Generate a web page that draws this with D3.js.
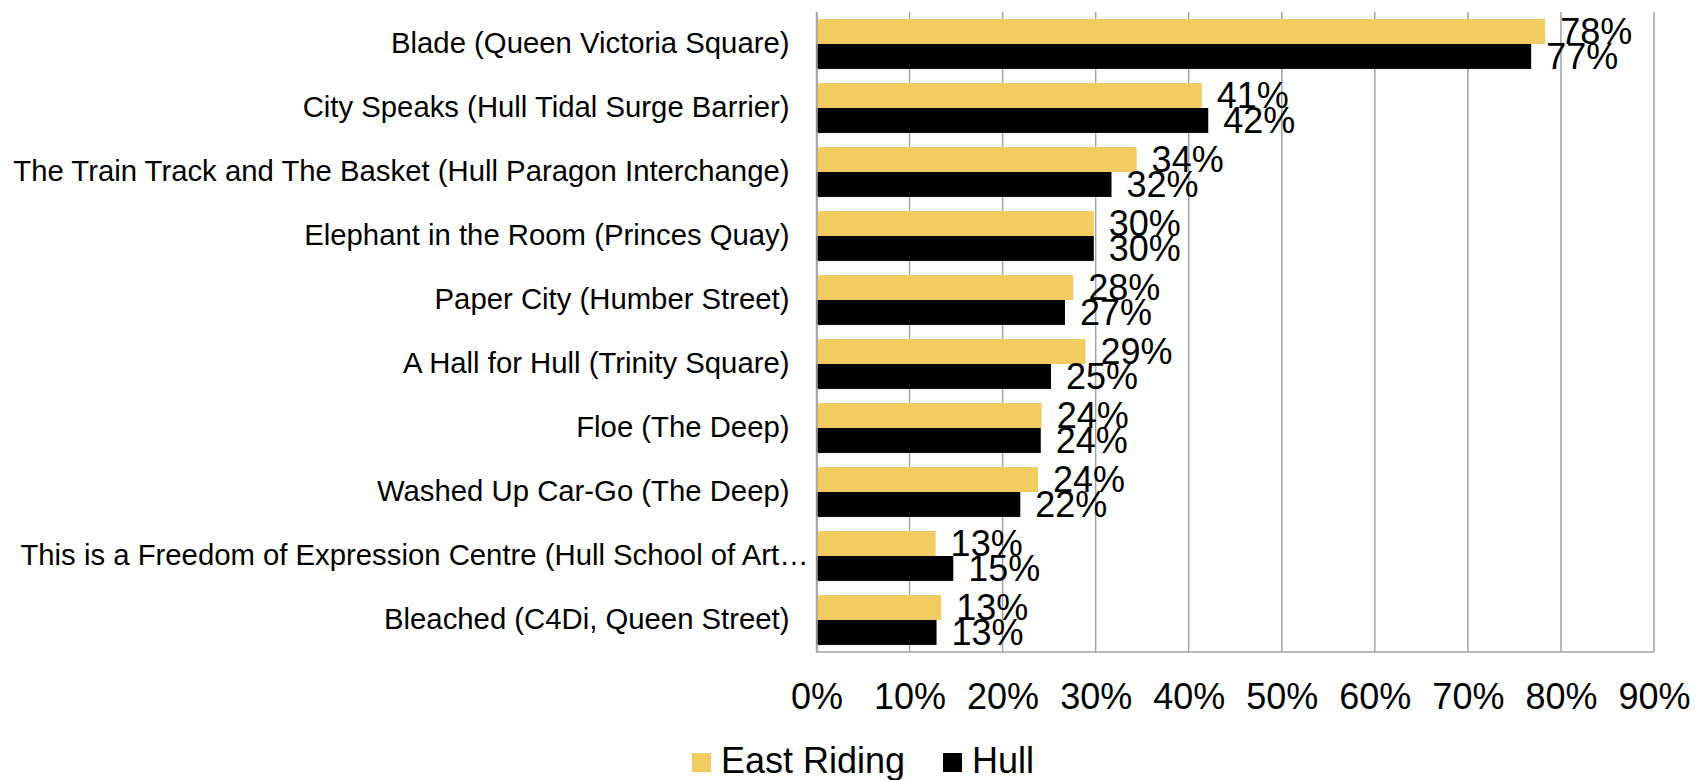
<!DOCTYPE html>
<html>
<head>
<meta charset="utf-8">
<script src="https://cdn.jsdelivr.net/npm/d3@7"></script>
<style>
  body { margin: 0; background: #fff; }
  svg { display: block; font-family: "Liberation Sans", Arial, sans-serif; }
</style>
</head>
<body>
<svg id="chart" width="1696" height="780"></svg>
<script>
// data (percent)
const categories = [
  "Blade (Queen Victoria Square)",
  "City Speaks (Hull Tidal Surge Barrier)",
  "The Train Track and The Basket (Hull Paragon Interchange)",
  "Elephant in the Room (Princes Quay)",
  "Paper City (Humber Street)",
  "A Hall for Hull (Trinity Square)",
  "Floe (The Deep)",
  "Washed Up Car-Go (The Deep)",
  "This is a Freedom of Expression Centre (Hull School of Art…",
  "Bleached (C4Di, Queen Street)"
];
const seriesNames = ["East Riding", "Hull"];
const eastRiding = [78.3, 41.4, 34.4, 29.8, 27.6, 28.9, 24.2, 23.8, 12.8, 13.4];
const hull = [76.8, 42.1, 31.7, 29.8, 26.7, 25.2, 24.1, 21.9, 14.7, 12.9];
const xTicks = [0, 10, 20, 30, 40, 50, 60, 70, 80, 90];

const colors = { "East Riding": "#F2CC60", "Hull": "#000000" };

const svg = d3.select("#chart");

const plot = { left: 816.5, right: 1654, top: 12, bottom: 652 };

const x = d3.scaleLinear().domain([0, 90]).range([plot.left, plot.right]);
const y0 = d3.scaleBand().domain(categories)
  .range([plot.top, plot.bottom])
  .paddingInner(0.22).paddingOuter(0.11);
const y1 = d3.scaleBand().domain(seriesNames).range([0, y0.bandwidth()]);

const rows = categories.map((c, i) => ({
  name: c,
  values: [
    { key: "East Riding", value: eastRiding[i] },
    { key: "Hull", value: hull[i] }
  ]
}));

// gridlines
svg.append("g").selectAll("line")
  .data(xTicks)
  .join("line")
  .attr("x1", d => x(d)).attr("x2", d => x(d))
  .attr("y1", plot.top).attr("y2", plot.bottom)
  .attr("stroke", "#a3a3a3")
  .attr("stroke-width", 1.5);

// bottom axis line
svg.append("line")
  .attr("x1", plot.left).attr("x2", plot.right)
  .attr("y1", plot.bottom).attr("y2", plot.bottom)
  .attr("stroke", "#a3a3a3")
  .attr("stroke-width", 1.5);

// bars
const groups = svg.append("g").selectAll("g")
  .data(rows)
  .join("g")
  .attr("transform", d => `translate(0,${y0(d.name)})`);

groups.selectAll("rect")
  .data(d => d.values)
  .join("rect")
  .attr("x", x(0))
  .attr("y", d => y1(d.key))
  .attr("width", d => x(d.value) - x(0))
  .attr("height", y1.bandwidth())
  .attr("fill", d => colors[d.key]);

// value labels
groups.selectAll("text")
  .data(d => d.values)
  .join("text")
  .attr("x", d => x(d.value) + 15)
  .attr("y", d => y1(d.key) + y1.bandwidth() / 2)
  .attr("dy", "0.35em")
  .attr("font-size", 36)
  .attr("fill", "#000")
  .text(d => Math.round(d.value) + "%");

// category axis
const yAxisG = svg.append("g")
  .attr("transform", `translate(${plot.left},0)`)
  .call(d3.axisLeft(y0).tickSize(0).tickPadding(27));
yAxisG.select(".domain")
  .attr("stroke", "#a3a3a3")
  .attr("stroke-width", 1.5);
yAxisG.selectAll("text")
  .attr("font-size", 29.3)
  .attr("font-family", "Liberation Sans, Arial, sans-serif")
  .attr("fill", "#000")
  .attr("dx", d => d.endsWith("…") ? 19 : 0);

// value axis
const xAxisG = svg.append("g")
  .attr("transform", `translate(0,${plot.bottom})`)
  .call(d3.axisBottom(x).tickValues(xTicks).tickFormat(d => d + "%").tickSize(0).tickPadding(31));
xAxisG.select(".domain").remove();
xAxisG.selectAll("text")
  .attr("font-size", 36)
  .attr("font-family", "Liberation Sans, Arial, sans-serif")
  .attr("fill", "#000");

// legend
const legend = svg.append("g").attr("transform", "translate(692,753)");
const items = legend.selectAll("g")
  .data(seriesNames)
  .join("g")
  .attr("transform", (d, i) => `translate(${i * 251},0)`);
items.append("rect")
  .attr("width", 19).attr("height", 19)
  .attr("fill", d => colors[d]);
items.append("text")
  .attr("x", 29).attr("y", 20)
  .attr("font-size", 36)
  .attr("fill", "#000")
  .text(d => d);
</script>
</body>
</html>
